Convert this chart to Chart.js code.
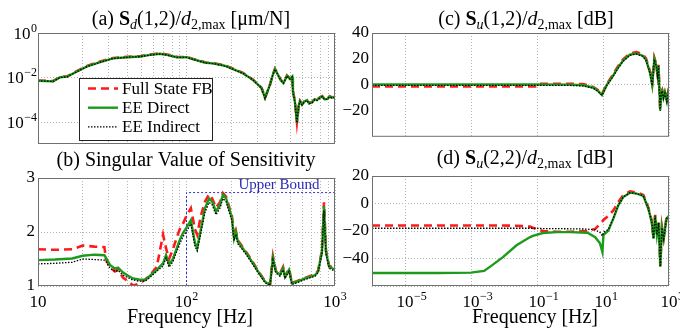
<!DOCTYPE html>
<html>
<head>
<meta charset="utf-8">
<script src="https://cdn.jsdelivr.net/npm/chart.js@4.4.1/dist/chart.umd.min.js"></script>
<style>
  html, body { margin: 0; padding: 0; background: #fff; }
  body { width: 680px; height: 328px; position: relative; overflow: hidden; }
  canvas { position: absolute; }
</style>
</head>
<body>
<canvas id="chartA" width="352" height="150" style="left:0;top:0"></canvas>
<canvas id="chartB" width="352" height="178" style="left:0;top:150px"></canvas>
<canvas id="chartC" width="340" height="150" style="left:340px;top:0"></canvas>
<canvas id="chartD" width="340" height="178" style="left:340px;top:150px"></canvas>
<script>
// ---- (a) Sd(1,2)/d2,max, frequency in Hz ----
const freqA = [10, 12.6, 14.1, 15.7, 18.3, 21.4, 26.2, 32, 39.8, 48.7, 56.8, 66.3, 74, 86, 100, 112, 122, 135, 150, 170,
  187, 210, 240, 280, 320, 338, 365, 380, 394, 430, 450, 475, 498, 515, 521, 538, 554, 570, 581, 600,
  620, 648, 670, 700, 730, 756, 790, 820, 850, 884, 920, 950, 1000];
const sdDirect = [7.4e-3, 6.9e-3, 1.05e-2, 1.12e-2, 1.9e-2, 3.2e-2, 5.0e-2, 7.4e-2, 8.3e-2, 8.9e-2, 0.105, 0.118, 0.105, 8.3e-2, 8.3e-2, 6.6e-2, 5.6e-2, 4.7e-2, 4.4e-2, 3.8e-2,
  3.2e-2, 2.3e-2, 1.6e-2, 8.1e-3, 3.5e-3, 1.26e-3, 4.9e-3, 1.26e-2, 2.45e-2, 8.1e-3, 5.8e-3, 1.23e-2, 8.9e-3, 1.12e-2, 2.5e-3, 7.8e-4, 1.0e-4, 6.0e-4, 9.1e-4, 6.3e-4,
  8.5e-4, 1.0e-3, 7.2e-4, 7.9e-4, 1.1e-3, 1.0e-3, 1.3e-3, 1.48e-3, 1.1e-3, 1.12e-3, 1.45e-3, 1.32e-3, 1.35e-3];
const sdFull = [7.6e-3, 7.1e-3, 1.08e-2, 1.15e-2, 2.0e-2, 3.4e-2, 5.3e-2, 7.7e-2, 8.6e-2, 9.2e-2, 0.110, 0.124, 0.109, 8.6e-2, 8.5e-2, 6.8e-2, 5.8e-2, 4.8e-2, 4.5e-2, 3.9e-2,
  3.3e-2, 2.4e-2, 1.65e-2, 8.3e-3, 3.6e-3, 1.3e-3, 5.0e-3, 1.3e-2, 2.5e-2, 8.3e-3, 6.0e-3, 1.26e-2, 9.1e-3, 1.15e-2, 2.6e-3, 8.0e-4, 1.05e-4, 6.2e-4, 9.3e-4, 6.5e-4,
  8.7e-4, 1.03e-3, 7.4e-4, 8.1e-4, 1.13e-3, 1.03e-3, 1.33e-3, 1.5e-3, 1.13e-3, 1.15e-3, 1.48e-3, 1.35e-3, 1.38e-3];
const sdIndirect = [7.3e-3, 6.8e-3, 1.03e-2, 1.1e-2, 1.87e-2, 3.15e-2, 4.9e-2, 7.3e-2, 8.2e-2, 8.8e-2, 0.103, 0.116, 0.103, 8.2e-2, 8.2e-2, 6.5e-2, 5.5e-2, 4.6e-2, 4.3e-2, 3.7e-2,
  3.1e-2, 2.25e-2, 1.57e-2, 8.0e-3, 3.4e-3, 1.22e-3, 4.8e-3, 1.24e-2, 2.4e-2, 7.9e-3, 5.7e-3, 1.2e-2, 8.7e-3, 1.1e-2, 2.4e-3, 7.5e-4, 9.6e-5, 5.8e-4, 8.8e-4, 6.1e-4,
  8.2e-4, 9.7e-4, 7.0e-4, 7.6e-4, 1.07e-3, 9.7e-4, 1.26e-3, 1.44e-3, 1.07e-3, 1.09e-3, 1.41e-3, 1.28e-3, 1.31e-3];

// ---- (b) singular value of sensitivity ----
const freqB = [10, 13, 17, 20, 24, 28, 28.7, 30.5, 33, 34.6, 37.4, 40, 43.6, 47.9, 52.6, 56.8, 63, 69.5, 72.8, 76.3,
  81, 86, 90, 94.6, 100, 107, 114, 118, 125, 133, 142, 149, 158, 168, 176, 185, 193, 202, 209, 215,
  222, 248, 276, 303, 338, 365, 382, 400, 426, 447, 461, 490, 513, 554, 628, 733, 769, 817, 843, 869, 912, 1000];
const svFull = [1.68, 1.67, 1.68, 1.75, 1.73, 1.72, 1.50, 1.35, 1.27, 1.30, 1.15, 1.10, 1.01, 1.04, 1.12, 1.20, 1.35, 1.95, 1.70, 1.50,
  1.68, 1.90, 2.05, 2.15, 2.30, 2.44, 2.05, 1.95, 2.30, 2.56, 2.70, 2.62, 2.45, 2.55, 2.72, 2.65, 2.48, 2.30, 1.90, 2.02,
  1.84, 1.66, 1.47, 1.28, 1.09, 1.03, 1.55, 1.28, 1.23, 1.35, 1.18, 1.32, 1.06, 1.09, 1.15, 1.22, 1.28, 1.66, 2.55, 1.66, 1.38, 1.31];
const svDirect = [1.48, 1.49, 1.51, 1.56, 1.58, 1.57, 1.52, 1.39, 1.32, 1.34, 1.25, 1.20, 1.14, 1.12, 1.11, 1.19, 1.30, 1.42, 1.57, 1.40,
  1.50, 1.70, 1.85, 1.98, 2.08, 2.22, 1.80, 1.70, 2.05, 2.44, 2.62, 2.56, 2.38, 2.50, 2.69, 2.62, 2.44, 2.28, 1.88, 2.00,
  1.82, 1.64, 1.45, 1.27, 1.08, 1.02, 1.52, 1.27, 1.21, 1.33, 1.17, 1.30, 1.05, 1.08, 1.14, 1.20, 1.27, 1.64, 2.48, 1.64, 1.36, 1.30];
const svIndirect = [1.41, 1.42, 1.44, 1.50, 1.49, 1.48, 1.45, 1.33, 1.27, 1.29, 1.20, 1.16, 1.11, 1.09, 1.09, 1.16, 1.27, 1.37, 1.52, 1.35,
  1.45, 1.64, 1.78, 1.91, 2.01, 2.15, 1.74, 1.65, 1.98, 2.36, 2.55, 2.50, 2.32, 2.44, 2.62, 2.56, 2.38, 2.22, 1.84, 1.96,
  1.78, 1.61, 1.42, 1.25, 1.06, 1.01, 1.48, 1.24, 1.18, 1.30, 1.14, 1.27, 1.03, 1.06, 1.12, 1.18, 1.25, 1.60, 2.40, 1.60, 1.33, 1.27];
const boundFreq = [100, 100, 1000];
const boundVal = [1, 2.73, 2.73];

// ---- (c) Su(1,2)/d2,max in dB ----
const freqC = [1e-6, 1e-4, 1e-2, 0.09, 0.11, 1, 2.5, 5, 7, 9.3, 13, 19, 28, 40, 65, 103, 160, 200, 270, 310,
  360, 410, 450, 480, 540, 580, 620, 680, 750, 860, 1000];
const su12Full = [-1.2, -1.2, -1.2, -1.2, 0.9, 0.9, 0.6, -1.5, -4, -7, 0.5, 7, 14, 19.5, 24.3, 25.3, 23.5, 20.5, 9.8, 1,
  20.8, 16, 8, 15.5, -18.5, -5.5, -4, -9.5, -5.5, -11.5, -1.5];
const su12Direct = [0.3, 0.3, 0.3, 0.3, 0.3, 0.2, -0.3, -2, -4.5, -7.9, 0, 6, 13, 18.5, 23.3, 24.3, 22.5, 19.7, 8.8, 0,
  20, 15, 7.6, 15, -19.5, -6, -4.3, -10, -6, -12.6, -2];
const su12Indirect = [-0.4, -0.4, -0.4, -0.4, -0.4, -0.4, -0.8, -2.5, -5, -8, -0.5, 5.5, 12.5, 18, 22.8, 23.8, 22, 19.2, 8.3, -0.5,
  19.5, 14.5, 7, 14.5, -20, -6.5, -4.8, -10.5, -6.5, -13, -2.5];

// ---- (d) Su(2,2)/d2,max in dB ----
const freqD = [1e-6, 1e-5, 1e-4, 1e-3, 0.0025, 0.0043, 0.0093, 0.024, 0.062, 0.075, 0.15, 0.4, 1, 3.4, 5.8, 8.1, 9.6, 10.3, 14.5, 20.6,
  29, 41, 66, 105, 167, 237, 300, 340, 380, 430, 485, 545, 610, 690, 840, 1000];
const su22Full = [-16, -16, -16, -16, -16, -16, -16, -16.2, -16.8, -17.7, -20, -20.5, -20.5, -20, -18.5, -15, -13, -12, -9, -5,
  1, 6, 8.8, 8, 6.2, -3, -12.8, -24.8, -8.2, -22.3, -13.3, -45, -17, -25, -10.3, -8.2];
const su22Direct = [-50.5, -50.5, -50.5, -50.3, -49, -45, -39, -30.4, -24.4, -23.5, -21.5, -20.8, -20.8, -21.3, -24.5, -29, -35.3, -23, -19.7, -11,
  -1.3, 4.7, 7.9, 7.2, 5.5, -3.8, -13.5, -25.6, -8.9, -23, -14, -46, -17.7, -25.6, -11, -8.9];
const su22Indirect = [-18, -18, -18, -18, -18, -18, -18, -18, -18, -18, -18.2, -18.3, -18.4, -18.6, -19.2, -21, -23.5, -21, -19, -10.5,
  -1.3, 4.7, 7.9, 7.2, 5.5, -3.8, -13.5, -25.6, -8.9, -23, -14, -46, -17.7, -25.6, -11, -8.9];

// ---- ticks (log labels are "10" with the exponent as superscript) ----
const gridFreqAB = [10, 20, 30, 40, 50, 60, 70, 80, 90, 100, 200, 300, 400, 500, 600, 700, 800, 900, 1000];
const labelFreqAB = [10, 100, 1000];
const labelExpAB = ['', '2', '3'];
const tickValA = [1e-4, 1e-2, 1];
const tickExpA = ['\u22124', '\u22122', '0'];
const tickFreqCD = [1e-5, 1e-3, 1e-1, 1e1, 1e3];
const tickExpCD = ['\u22125', '\u22123', '\u22121', '1', '3'];

const SERIF = '"Liberation Serif", "Times New Roman", serif';
const tickFont = { family: SERIF, size: 17 };
const GRID_COLOR = '#b4b4b4';

const RED = { borderColor: '#ff1a1a', borderDash: [8, 5], borderWidth: 2.6, order: 3 };
const GREEN = { borderColor: '#1c9a1c', borderWidth: 2.4, order: 2 };
const BLACK = { borderColor: '#000000', borderDash: [1.5, 1.5], borderWidth: 1.3, order: 1 };
const BLUE = { borderColor: '#3030c8', borderDash: [2, 2], borderWidth: 1, order: 4 };

function series(label, xs, ys, style) {
  return Object.assign({
    label: label,
    data: xs.map((x, i) => ({ x: x, y: ys[i] })),
    showLine: true, pointRadius: 0, fill: false, clip: 0
  }, style);
}

function minus(v) { return v < 0 ? '\u2212' + Math.abs(v) : String(v); }

// log axis: fixed tick list, labels drawn by the decor plugin
function logAxis(min, max, ticks, size, isX) {
  return {
    type: 'logarithmic', min: min, max: max,
    afterBuildTicks: s => { s.ticks = ticks.map(v => ({ value: v })); },
    afterFit: s => { if (isX) s.height = size; else s.width = size; },
    ticks: { display: false },
    grid: { color: GRID_COLOR, lineWidth: 1, drawTicks: false },
    border: { display: false, dash: [1, 2] }
  };
}

function linY(min, max, width, hideVal, gridAt) {
  return {
    type: 'linear', min: min, max: max,
    afterFit: s => { s.width = width; },
    ticks: { stepSize: min < 0 ? 20 : 1, padding: 3, font: tickFont, color: '#000',
      callback: v => v === hideVal ? '' : minus(v) },
    grid: { drawTicks: false, lineWidth: 1,
      color: c => (gridAt === null || (c.tick && gridAt.indexOf(c.tick.value) >= 0)) ? GRID_COLOR : 'rgba(0,0,0,0)' },
    border: { display: false, dash: [1, 2] }
  };
}

// titles with bold / italic / subscript pieces
function richText(ctx, parts, cx, y, size) {
  const has = (p, f) => (p[1] || '').indexOf(f) >= 0;
  const fontFor = p => (has(p, 'i') ? 'italic ' : '') + (has(p, 'b') ? 'bold ' : '') +
    (has(p, 's') ? Math.round(size * 0.72) : size) + 'px ' + SERIF;
  let total = 0;
  const widths = parts.map(p => { ctx.font = fontFor(p); const w = ctx.measureText(p[0]).width; total += w; return w; });
  let x = cx - total / 2;
  ctx.textAlign = 'left';
  ctx.textBaseline = 'alphabetic';
  parts.forEach((p, i) => {
    ctx.font = fontFor(p);
    ctx.fillText(p[0], x, y + (has(p, 's') ? size * 0.22 : 0));
    x += widths[i];
  });
}

// "10" + superscript exponent; mode: 'right', 'whole' (centre all) or 'base' (centre the 10)
function powLabel(ctx, exp, x, y, mode) {
  ctx.font = '17px ' + SERIF;
  const wb = ctx.measureText('10').width;
  ctx.font = '12px ' + SERIF;
  const we = exp ? ctx.measureText(exp).width + 0.5 : 0;
  let x0 = x - wb / 2;
  if (mode === 'right') x0 = x - wb - we;
  if (mode === 'whole') x0 = x - (wb + we) / 2;
  ctx.textAlign = 'left';
  ctx.textBaseline = 'alphabetic';
  ctx.font = '17px ' + SERIF;
  ctx.fillText('10', x0, y);
  if (exp) {
    ctx.font = '12px ' + SERIF;
    ctx.fillText(exp, x0 + wb + 0.5, y - 7);
  }
}

const decor = {
  id: 'decor',
  afterDatasetsDraw(chart, args, o) {
    const ctx = chart.ctx, a = chart.chartArea;
    ctx.save();
    // axes box
    ctx.strokeStyle = '#707070';
    ctx.lineWidth = 1;
    ctx.setLineDash([]);
    ctx.strokeRect(a.left + 0.5, a.top + 0.5, a.right - a.left - 1, a.bottom - a.top - 1);

    if (o.note) {
      ctx.fillStyle = o.note.color;
      ctx.font = o.note.size + 'px ' + SERIF;
      ctx.textAlign = 'center';
      ctx.textBaseline = 'alphabetic';
      ctx.fillText(o.note.text, o.note.x, o.note.y);
    }

    if (o.legend) {
      const L = o.legend;
      ctx.fillStyle = '#fff';
      ctx.fillRect(L.x, L.y, L.w, L.h);
      ctx.strokeStyle = '#222';
      ctx.strokeRect(L.x + 0.5, L.y + 0.5, L.w, L.h);
      chart.data.datasets.filter(d => d.label).forEach((d, i) => {
        const y = L.y + L.first + i * L.step;
        ctx.strokeStyle = d.borderColor;
        ctx.lineWidth = d.borderWidth;
        ctx.setLineDash(d.borderDash || []);
        ctx.beginPath();
        ctx.moveTo(L.x + L.line0, y);
        ctx.lineTo(L.x + L.line1, y);
        ctx.stroke();
        ctx.setLineDash([]);
        ctx.fillStyle = '#000';
        ctx.font = '17px ' + SERIF;
        ctx.textAlign = 'left';
        ctx.textBaseline = 'middle';
        ctx.fillText(d.label, L.x + L.text, y + 1);
      });
    }
    ctx.restore();
  },
  afterDraw(chart, args, o) {
    const ctx = chart.ctx, a = chart.chartArea;
    ctx.save();
    ctx.fillStyle = '#000';
    richText(ctx, o.title, o.titleX, o.titleY, 20);
    if (o.xlabel) {
      ctx.font = '20px ' + SERIF;
      ctx.textAlign = 'center';
      ctx.textBaseline = 'alphabetic';
      ctx.fillText(o.xlabel, o.xlabelX, o.xlabelY);
    }
    if (o.xPow) {
      const s = chart.scales.x;
      o.xPow.vals.forEach((v, i) => powLabel(ctx, o.xPow.exps[i], s.getPixelForValue(v), a.bottom + 20.5, o.xPow.mode));
    }
    if (o.yPow) {
      const s = chart.scales.y;
      o.yPow.vals.forEach((v, i) => powLabel(ctx, o.yPow.exps[i], a.left - 1, s.getPixelForValue(v) + 5.5, 'right'));
    }
    ctx.restore();
  }
};

function makeChart(id, datasets, scales, padding, decorOpts) {
  return new Chart(document.getElementById(id), {
    type: 'scatter',
    data: { datasets: datasets },
    options: {
      responsive: false,
      animation: false,
      events: [],
      layout: { padding: padding, autoPadding: false },
      plugins: { legend: { display: false }, tooltip: { enabled: false }, decor: decorOpts },
      scales: scales
    },
    plugins: [decor]
  });
}

// (a)
makeChart('chartA', [
  series('Full State FB', freqA, sdFull, RED),
  series('EE Direct', freqA, sdDirect, GREEN),
  series('EE Indirect', freqA, sdIndirect, BLACK)
], {
  x: logAxis(10, 1000, gridFreqAB, 0, true),
  y: logAxis(1.1e-5, 1, tickValA, 36, false)
}, { left: 2, top: 33, right: 17, bottom: 6 }, {
  title: [['(a) '], ['S', 'b'], ['d', 'is'], ['(1,2)/'], ['d', 'i'], ['2,max', 's'], [' [\u03bcm/N]']],
  titleX: 191, titleY: 25,
  yPow: { vals: tickValA, exps: tickExpA },
  legend: { x: 79, y: 78, w: 133, h: 62, first: 10.5, step: 19.2, line0: 9, line1: 39, text: 43 }
});

// (b)
makeChart('chartB', [
  series('', boundFreq, boundVal, BLUE),
  series('Full State FB', freqB, svFull, RED),
  series('EE Direct', freqB, svDirect, GREEN),
  series('EE Indirect', freqB, svIndirect, BLACK)
], {
  x: logAxis(10, 1000, gridFreqAB, 42, true),
  y: linY(1, 3, 36, null, null)
}, { left: 2, top: 28, right: 17, bottom: 0 }, {
  title: [['(b) Singular Value of Sensitivity']],
  titleX: 186, titleY: 16,
  xlabel: 'Frequency [Hz]', xlabelX: 190, xlabelY: 172.5,
  xPow: { vals: labelFreqAB, exps: labelExpAB, mode: 'whole' },
  note: { text: 'Upper Bound', x: 279, y: 38.5, size: 15, color: '#2a2ab8' }
});

// (c)
makeChart('chartC', [
  series('Full State FB', freqC, su12Full, RED),
  series('EE Direct', freqC, su12Direct, GREEN),
  series('EE Indirect', freqC, su12Indirect, BLACK)
], {
  x: logAxis(1e-6, 1e3, tickFreqCD, 0, true),
  y: linY(-40, 40, 30, -40, [0])
}, { left: 2, top: 33, right: 11, bottom: 6 }, {
  title: [['(c) '], ['S', 'b'], ['u', 'is'], ['(1,2)/'], ['d', 'i'], ['2,max', 's'], [' [dB]']],
  titleX: 186, titleY: 25
});

// (d)
makeChart('chartD', [
  series('Full State FB', freqD, su22Full, RED),
  series('EE Direct', freqD, su22Direct, GREEN),
  series('EE Indirect', freqD, su22Indirect, BLACK)
], {
  x: logAxis(1e-6, 1e3, tickFreqCD, 42, true),
  y: linY(-60, 20, 30, -60, null)
}, { left: 2, top: 26, right: 11, bottom: 0 }, {
  title: [['(d) '], ['S', 'b'], ['u', 'is'], ['(2,2)/'], ['d', 'i'], ['2,max', 's'], [' [dB]']],
  titleX: 185, titleY: 14,
  xlabel: 'Frequency [Hz]', xlabelX: 195, xlabelY: 172.5,
  xPow: { vals: tickFreqCD, exps: tickExpCD, mode: 'base' }
});
</script>
</body>
</html>
